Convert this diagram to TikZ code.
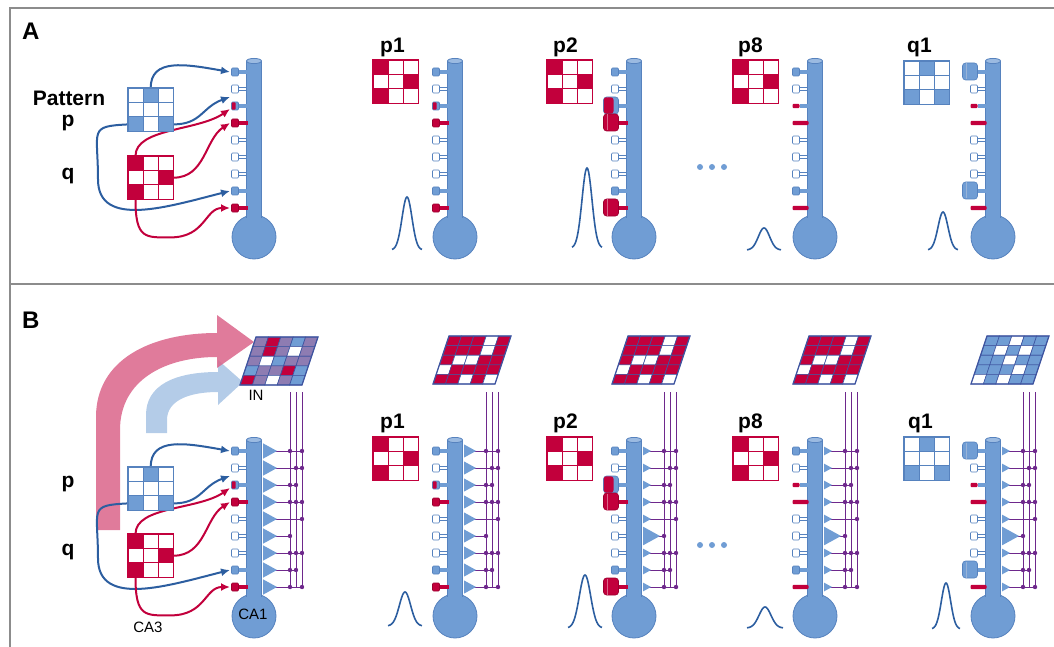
\documentclass[tikz,border=0pt]{standalone}
\usepackage{fontspec}
\setmainfont{Liberation Sans}
\usetikzlibrary{calc}
\usetikzlibrary{arrows.meta}

\definecolor{dend}{RGB}{112,157,212}
\definecolor{dendline}{RGB}{86,130,190}
\definecolor{arrblue}{RGB}{44,94,160}
\definecolor{crim}{RGB}{194,0,60}
\definecolor{purp}{RGB}{110,40,140}
\definecolor{bigpink}{RGB}{218,100,138}
\definecolor{bigblue}{RGB}{180,204,232}
\definecolor{gridline}{RGB}{62,84,160}
\definecolor{frame}{RGB}{140,140,140}
\colorlet{rd}{crim}
\colorlet{bu}{dend}
\colorlet{wt}{white}
\definecolor{pu}{RGB}{142,124,178}

% spines, #1 = left edge of the shaft, #2 = height
\newcommand\spnb[2]{
    \fill[dend] (#1-8,#2-1.6) rectangle (#1+1,#2+1.6);
    \draw[dendline, fill=dend, line width=0.6, rounded corners=1] (#1-15,#2-4) rectangle (#1-8,#2+4);
}
\newcommand\spne[2]{
    \draw[dendline, fill=white, line width=0.6] (#1-8,#2-1.6) rectangle (#1,#2+1.6);
    \draw[dendline, fill=white, line width=0.6, rounded corners=1] (#1-15,#2-4) rectangle (#1-8,#2+4);
}
\newcommand\spnh[2]{
    \spnb{#1}{#2}
    \fill[crim, rounded corners=0.8] (#1-14.7,#2-3.7) rectangle (#1-11,#2+3.7);
}
\newcommand\spnr[2]{
    \fill[crim] (#1-8,#2-1.6) rectangle (#1+1,#2+1.6);
    \draw[crim!80!black, fill=crim, line width=0.6, rounded corners=1] (#1-15,#2-4) rectangle (#1-8,#2+4);
}
\newcommand\spnB[2]{
    \fill[dend] (#1-8,#2-1.8) rectangle (#1+1,#2+1.8);
    \draw[dendline, fill=dend, line width=0.6, rounded corners=3] (#1-23,#2-9) rectangle (#1-8,#2+8);
    \draw[dendline!60!white, line width=0.6] (#1-19,#2-8.5) -- (#1-19,#2+7.5);
}
\newcommand\spnH[2]{
    \spnB{#1}{#2}
    \fill[crim, rounded corners=2.5] (#1-22.7,#2-8.7) rectangle (#1-13,#2+7.7);
}
\newcommand\spnR[2]{
    \fill[crim] (#1-8,#2-1.8) rectangle (#1+1,#2+1.8);
    \draw[crim!80!black, fill=crim, line width=0.6, rounded corners=3] (#1-23,#2-9) rectangle (#1-8,#2+8);
    \draw[crim!60!white, line width=0.6] (#1-19,#2-8.5) -- (#1-19,#2+7.5);
}
\newcommand\spnx[2]{
    \fill[crim, rounded corners=1] (#1-15,#2-2.2) rectangle (#1+1,#2+2.2);
}
\newcommand\spny[2]{
    \fill[dend] (#1-8,#2-1.8) rectangle (#1+1,#2+1.8);
    \fill[crim, rounded corners=1] (#1-15,#2-2.2) rectangle (#1-8,#2+2.2);
}

% shaft, soma and nine spines; #1 name, #2 shaft x, #3 shaft top, #4 spine kinds
\newcommand\neuron[4]{
    \def\X{#2}
    \def\Y{#3}
    \draw[dendline, fill=dend, line width=0.8] (\X,\Y+176) circle (22);
    \fill[dend] (\X-7.5,\Y) rectangle (\X+7.5,\Y+162);
    \draw[dendline, line width=0.8] (\X-7.5,\Y) -- (\X-7.5,\Y+157) (\X+7.5,\Y) -- (\X+7.5,\Y+157);
    \draw[dendline, fill=dend!70!white, line width=0.8] (\X,\Y) ellipse (7.5 and 2.6);
    \foreach \k [count=\i] in {#4}
    {
        \pgfmathsetmacro\sy{\Y+11+17*(\i-1)}
        \coordinate (#1-s\i) at (\X-24,\sy);
        \csname spn\k\endcsname{\X-7.5}{\sy}
    }
}

% output synapses and the three wires; #1 shaft x, #2 shaft top, #3 sizes, #4 first wire
\newcommand\axons[4]{
    \foreach \j in {0,1,2}
        \draw[purp, line width=0.9] (#1+#4+6*\j,392) -- (#1+#4+6*\j,#2+147);
    \foreach \i/\e/\dl in {1/2/{0,2}, 2/2/{1,2}, 3/1/{0,1}, 4/2/{0,1,2}, 5/2/{2},
                           6/0/{0}, 7/2/{0,1,2}, 8/1/{0,1}, 9/2/{0,2}}
    {
        \pgfmathsetmacro\sy{#2+11+17*(\i-1)}
        \draw[purp, line width=0.9] (#1+12,\sy) -- (#1+#4+6*\e,\sy);
        \foreach \j in \dl
            \fill[purp] (#1+#4+6*\j,\sy) circle (2.2);
    }
    \foreach \w [count=\i] in {#3}
    {
        \pgfmathsetmacro\sy{#2+11+17*(\i-1)}
        \fill[dend] (#1+9,\sy-0.55*\w) -- (#1+9+\w,\sy) -- (#1+9,\sy+0.55*\w) -- cycle;
    }
}

% slanted 5x5 input sheet; #1 lower left x, #2 lower edge, #3 colours from the top row
\newcommand\ingrid[3]{
    \foreach \c [count=\k] in {#3}
    {
        \pgfmathtruncatemacro\col{mod(\k-1,5)}
        \pgfmathtruncatemacro\row{4-div(\k-1,5)}
        \filldraw[fill=\c, draw=gridline, line width=0.6]
            (#1+\col*12.4+\row*3.2,#2-\row*9.6) -- ++(12.4,0) -- ++(3.2,-9.6) -- ++(-12.4,0) -- cycle;
    }
    \draw[gridline, line width=1.2] (#1,#2) -- ++(62,0) -- ++(16,-48) -- ++(-62,0) -- cycle;
}

% 3x3 pattern; #1 name, #2/#3 top left, #4 line colour, #5 cells by rows
\newcommand\patt[5]{
    \node[inner sep=0, minimum width=45, minimum height=43, anchor=north west] (#1) at (#2,#3) {};
    \foreach \c [count=\k] in {#5}
    {
        \pgfmathtruncatemacro\col{mod(\k-1,3)}
        \pgfmathtruncatemacro\row{div(\k-1,3)}
        \filldraw[fill=\c, draw=#4, line width=0.8] (#2+\col*15,#3+\row*14.33) rectangle ++(15,14.33);
    }
    \draw[#4, line width=1.2] (#1.north west) rectangle (#1.south east);
}

% CA3 inputs onto the spines; #1 p grid, #2 q grid, #3 neuron
\newcommand\feed[3]{
    \draw[bluearr] (#1.north) .. controls +(0,-30) and +(-45,-8) .. (#3-s1);
    \draw[bluearr] ($(#1.south east)+(0,-7)$) .. controls +(28,0) and +(-28,10) .. ($(#3-s3)+(0,-9)$);
    \draw[bluearr] ($(#1.south west)+(0,-7)$) .. controls +(-40,2) and +(0,-50) .. ++(-30,55)
        .. controls +(0,50) and +(-60,15) .. (#3-s8);
    \draw[redarr] ($(#2.north west)+(7.5,0)$) .. controls +(0,-28) and +(-32,22) .. ($(#3-s3)+(0,3)$);
    \draw[redarr] (#2.east) .. controls +(32,0) and +(-25,16) .. (#3-s4);
    \draw[redarr] ($(#2.south west)+(7.5,0)$) .. controls +(0,40) and +(-25,0) .. ++(35,38)
        .. controls +(35,0) and +(-25,0) .. (#3-s9);
}

% tuning curve; #1 centre, #2 base line, #3 height, #4 half width
\newcommand\bell[4]{
    \draw[arrblue, line width=1.6, smooth, samples=41, domain=-#4:#4, variable=\t]
        plot ({#1+\t}, {#2-#3*exp(-(\t*\t)/(0.22*#4*#4))});
}

\begin{document}
\begin{tikzpicture}[
        x=1pt, y=-1pt,
        bluearr/.style={arrblue, line width=2, -{Latex[length=9pt, width=8pt]}},
        redarr/.style={crim, line width=2, -{Latex[length=9pt, width=8pt]}},
        lab/.style={font=\fontsize{21}{24}\selectfont\bfseries, inner sep=0},
        panel/.style={font=\fontsize{24}{28}\selectfont\bfseries, inner sep=0},
        smalltxt/.style={font=\fontsize{15}{17}\selectfont, inner sep=0}
    ]
    \useasboundingbox (0,0) rectangle (1054,647);

    \draw[frame, line width=2] (10,647) -- (10,8) -- (1054,8);
    \draw[frame, line width=1.5] (10,284) -- (1054,284);

    % big arrows towards the input sheet
    \fill[bigblue] (146,433) -- (146,415) .. controls (146,385) and (175,372) .. (218,372)
        -- (218,360) -- (243,382) -- (218,405) -- (218,392)
        .. controls (190,392) and (167,400) .. (167,420) -- (167,433) -- cycle;
    \fill[bigpink, opacity=0.85] (96,530) -- (96,417) .. controls (96,360) and (150,333) .. (217,333)
        -- (217,315) -- (254,342) -- (217,368) -- (217,357)
        .. controls (165,357) and (120,380) .. (120,430) -- (120,530) -- cycle;

    %% A
    \neuron{nA0}{254}{61}{b,e,h,r,e,e,e,b,r}
    \neuron{nA1}{455}{61}{b,e,h,r,e,e,e,b,r}
    \neuron{nA2}{634}{61}{b,e,H,R,e,e,e,b,R}
    \neuron{nA8}{815}{61}{b,e,y,x,e,e,e,b,x}
    \neuron{nAq}{993}{61}{B,e,y,x,e,e,e,B,x}

    %% B
    \neuron{nB0}{254}{440}{b,e,h,r,e,e,e,b,r}
    \neuron{nB1}{455}{440}{b,e,h,r,e,e,e,b,r}
    \neuron{nB2}{634}{440}{b,e,H,R,e,e,e,b,R}
    \neuron{nB8}{815}{440}{b,e,y,x,e,e,e,b,x}
    \neuron{nBq}{993}{440}{B,e,y,x,e,e,e,B,x}

    \axons{254}{440}{14,14,14,14,14,14,14,14,14}{36}
    \axons{455}{440}{12,12,12,12,12,12,12,12,12}{31}
    \axons{634}{440}{8,8,8,8,8,17,8,8,8}{30}
    \axons{815}{440}{8,8,8,8,8,17,8,8,8}{30}
    \axons{993}{440}{8,8,8,8,8,17,8,8,8}{30}

    \ingrid{240}{385}{pu,rd,pu,bu,pu, pu,rd,pu,wt,pu, pu,wt,bu,pu,pu, bu,pu,pu,rd,bu, rd,pu,wt,pu,bu}
    \ingrid{433}{384}{rd,rd,rd,wt,rd, rd,rd,rd,wt,rd, rd,wt,wt,rd,rd, wt,rd,rd,rd,rd, rd,rd,wt,rd,wt}
    \ingrid{612}{384}{rd,rd,rd,wt,rd, rd,rd,rd,wt,rd, rd,wt,wt,rd,rd, wt,rd,rd,rd,rd, rd,rd,wt,rd,wt}
    \ingrid{793}{384}{rd,rd,rd,wt,rd, rd,rd,rd,wt,rd, rd,wt,wt,rd,rd, wt,rd,rd,rd,rd, rd,rd,wt,rd,wt}
    \ingrid{971}{384}{bu,bu,wt,bu,bu, bu,wt,bu,wt,bu, bu,bu,wt,bu,bu, bu,bu,bu,wt,bu, wt,bu,wt,bu,bu}

    % CA3 patterns, drawn again over the arrow tails
    \patt{pA}{128}{88}{dendline}{wt,bu,wt,wt,wt,wt,bu,wt,bu}
    \patt{qA}{128}{156}{crim}{rd,wt,wt,wt,wt,rd,rd,wt,wt}
    \patt{pB}{128}{467}{dendline}{wt,bu,wt,wt,wt,wt,bu,wt,bu}
    \patt{qB}{128}{534}{crim}{rd,wt,wt,wt,wt,rd,rd,wt,wt}
    \feed{pA}{qA}{nA0}
    \feed{pB}{qB}{nB0}
    \patt{pA}{128}{88}{dendline}{wt,bu,wt,wt,wt,wt,bu,wt,bu}
    \patt{qA}{128}{156}{crim}{rd,wt,wt,wt,wt,rd,rd,wt,wt}
    \patt{pB}{128}{467}{dendline}{wt,bu,wt,wt,wt,wt,bu,wt,bu}
    \patt{qB}{128}{534}{crim}{rd,wt,wt,wt,wt,rd,rd,wt,wt}

    \patt{gA1}{373}{60}{crim}{rd,wt,wt,wt,wt,rd,rd,wt,wt}
    \patt{gA2}{547}{60}{crim}{rd,wt,wt,wt,wt,rd,rd,wt,wt}
    \patt{gA8}{733}{60}{crim}{rd,wt,wt,wt,wt,rd,rd,wt,wt}
    \patt{gAq}{904}{61}{dendline}{wt,bu,wt,wt,wt,wt,bu,wt,bu}
    \patt{gB1}{373}{437}{crim}{rd,wt,wt,wt,wt,rd,rd,wt,wt}
    \patt{gB2}{547}{437}{crim}{rd,wt,wt,wt,wt,rd,rd,wt,wt}
    \patt{gB8}{733}{437}{crim}{rd,wt,wt,wt,wt,rd,rd,wt,wt}
    \patt{gBq}{904}{437}{dendline}{wt,bu,wt,wt,wt,wt,bu,wt,bu}

    % labels
    \node[panel, anchor=base west] (panA) at (22,40) {A};
    \node[panel, anchor=base west] (panB) at (22,328) {B};
    \node[lab, anchor=base] (patt) at (69,106) {Pattern};
    \node[lab, anchor=base] (labpA) at (68,127) {p};
    \node[lab, anchor=base] (labqA) at (68,180) {q};
    \node[lab, anchor=base] (labpB) at (68,487) {p};
    \node[lab, anchor=base] (labqB) at (68,555) {q};
    \node[lab, anchor=base west] (labA1) at (380,53) {p1};
    \node[lab, anchor=base west] (labA2) at (553,53) {p2};
    \node[lab, anchor=base west] (labA8) at (738,53) {p8};
    \node[lab, anchor=base west] (labAq) at (907,53) {q1};
    \node[lab, anchor=base west] (labB1) at (380,428) {p1};
    \node[lab, anchor=base west] (labB2) at (553,428) {p2};
    \node[lab, anchor=base west] (labB8) at (738,428) {p8};
    \node[lab, anchor=base west] (labBq) at (908,428) {q1};
    \node[smalltxt] (ca3) at (148,627) {CA3};
    \node[smalltxt] (ca1) at (253,614) {CA1};
    \node[smalltxt] (in) at (256,395) {IN};

    % tuning curves
    \bell{407}{250}{53}{15}
    \bell{587}{248}{80}{15}
    \bell{764}{250}{22}{17}
    \bell{943}{250}{38}{15}
    \bell{405}{626}{34}{17}
    \bell{585}{628}{53}{17}
    \bell{765}{628}{21}{18}
    \bell{946}{629}{46}{14}

    \foreach \i in {700,712,724}
    {
        \fill[dend] (\i,167) circle (3);
        \fill[dend] (\i,545) circle (3);
    }
\end{tikzpicture}
\end{document}
